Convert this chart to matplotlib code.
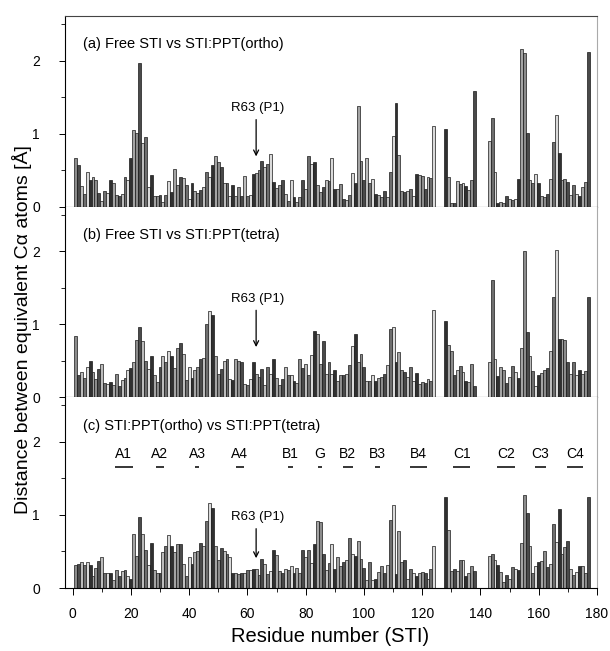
import numpy as np
import matplotlib.pyplot as plt
from matplotlib.ticker import MultipleLocator

plt.rcParams['font.family'] = ['Liberation Sans', 'DejaVu Sans']

# residues present in all three comparisons (two loop gaps)
residues = list(range(1, 125)) + list(range(128, 139)) + list(range(143, 178))

# (a) Free STI vs STI:PPT(ortho)
dist_a = [0.66, 0.57, 0.28, 0.17, 0.47, 0.36, 0.40, 0.36, 0.19, 0.08,
          0.21, 0.19, 0.37, 0.33, 0.16, 0.14, 0.17, 0.41, 0.36, 0.67,
          1.05, 1.01, 1.96, 0.87, 0.95, 0.27, 0.43, 0.15, 0.14, 0.16,
          0.06, 0.16, 0.35, 0.20, 0.52, 0.30, 0.41, 0.39, 0.30, 0.11,
          0.33, 0.21, 0.19, 0.23, 0.27, 0.47, 0.41, 0.57, 0.70, 0.61,
          0.54, 0.32, 0.33, 0.14, 0.30, 0.15, 0.27, 0.15, 0.42,
          0.15, 0.16, 0.45, 0.46, 0.50, 0.63, 0.54, 0.58, 0.72, 0.34,
          0.25, 0.30, 0.37, 0.17, 0.08, 0.36, 0.13, 0.06, 0.13, 0.37,
          0.24, 0.69, 0.58, 0.61, 0.29, 0.20, 0.27, 0.37, 0.35, 0.66,
          0.24, 0.24, 0.31, 0.11, 0.09, 0.16, 0.46, 0.33, 1.38, 0.62,
          0.37, 0.66, 0.32, 0.38, 0.17, 0.16, 0.13, 0.22, 0.13, 0.48,
          0.97, 1.42, 0.71, 0.21, 0.20, 0.22, 0.24, 0.14, 0.45,
          0.43, 0.42, 0.24, 0.41, 0.39, 1.10,
          1.07, 0.41, 0.05, 0.05, 0.35, 0.31, 0.32, 0.28, 0.23, 0.36, 1.58,
          0.90, 1.21, 0.47, 0.05, 0.07, 0.05, 0.15, 0.10, 0.09, 0.11,
          0.38, 2.16, 2.10, 1.01, 0.36, 0.33, 0.45, 0.32, 0.14, 0.13,
          0.17, 0.38, 0.88, 1.25, 0.74, 0.36, 0.38, 0.34, 0.16, 0.30,
          0.17, 0.15, 0.27, 0.34, 2.12]

# (b) Free STI vs STI:PPT(tetra)
dist_b = [0.84, 0.31, 0.34, 0.27, 0.42, 0.50, 0.35, 0.25, 0.39, 0.46,
          0.19, 0.18, 0.21, 0.17, 0.32, 0.16, 0.24, 0.27, 0.37, 0.40,
          0.49, 0.78, 0.96, 0.77, 0.50, 0.39, 0.56, 0.31, 0.21, 0.42,
          0.57, 0.49, 0.63, 0.57, 0.40, 0.68, 0.75, 0.59, 0.24, 0.42,
          0.27, 0.37, 0.41, 0.53, 0.54, 1.00, 1.18, 1.13, 0.56, 0.32,
          0.39, 0.50, 0.53, 0.25, 0.24, 0.53, 0.50,
          0.48, 0.18, 0.17, 0.25, 0.48,
          0.32, 0.28, 0.39, 0.17, 0.42, 0.32, 0.53, 0.27, 0.17, 0.25,
          0.41, 0.30, 0.31, 0.23, 0.20, 0.53, 0.40, 0.46, 0.30, 0.58,
          0.91, 0.87, 0.45, 0.77, 0.32, 0.48, 0.32, 0.37, 0.23, 0.31,
          0.30, 0.32, 0.44, 0.70, 0.87, 0.48, 0.60, 0.42, 0.23, 0.23,
          0.31, 0.23, 0.27, 0.28, 0.32, 0.44, 0.94, 0.96, 0.49, 0.62,
          0.37, 0.34, 0.28, 0.41, 0.23,
          0.33, 0.18, 0.21, 0.19, 0.25, 0.22, 1.20,
          1.05, 0.71, 0.63, 0.31, 0.38, 0.43, 0.34, 0.23, 0.21, 0.46, 0.16,
          0.49, 1.60, 0.53, 0.29, 0.42, 0.37, 0.19, 0.28, 0.43, 0.34,
          0.26, 0.68, 2.00, 0.90, 0.56, 0.36, 0.16, 0.30, 0.33, 0.37,
          0.40, 0.64, 1.38, 2.02, 0.80, 0.80, 0.78, 0.49, 0.32, 0.49,
          0.31, 0.37, 0.32, 0.36, 1.37]

# (c) STI:PPT(ortho) vs STI:PPT(tetra)
dist_c = [0.31, 0.33, 0.35, 0.31, 0.35, 0.31, 0.17, 0.27, 0.37, 0.43,
          0.20, 0.20, 0.20, 0.11, 0.25, 0.17, 0.23, 0.25, 0.16, 0.12,
          0.74, 0.44, 0.97, 0.74, 0.52, 0.32, 0.61, 0.24, 0.21, 0.21,
          0.49, 0.57, 0.72, 0.58, 0.49, 0.60, 0.60, 0.33, 0.16, 0.42,
          0.33, 0.49, 0.50, 0.61, 0.58, 0.92, 1.16, 1.10, 0.58, 0.38,
          0.55, 0.51, 0.47, 0.42, 0.21, 0.20, 0.19, 0.21, 0.21, 0.24,
          0.25, 0.26, 0.26, 0.18, 0.40, 0.33, 0.19, 0.23, 0.52, 0.45,
          0.23, 0.20, 0.26, 0.25, 0.30, 0.21, 0.28, 0.21, 0.52, 0.42,
          0.52, 0.34, 0.60, 0.92, 0.91, 0.47, 0.25, 0.34, 0.60, 0.26,
          0.43,
          0.30, 0.35, 0.38, 0.68, 0.47, 0.44, 0.64, 0.40, 0.27, 0.11,
          0.35, 0.11, 0.13, 0.22, 0.30, 0.20, 0.32, 0.93, 1.13, 0.19,
          0.78, 0.35, 0.39, 0.13, 0.26, 0.21, 0.17, 0.20, 0.22, 0.21,
          0.13, 0.26, 0.58,
          1.25, 0.79, 0.23, 0.26, 0.23, 0.39, 0.38, 0.17, 0.21, 0.30, 0.23,
          0.44, 0.46, 0.38, 0.31, 0.22, 0.08, 0.18, 0.12, 0.29, 0.26,
          0.24, 0.61, 1.27, 1.03, 0.58, 0.21, 0.30, 0.36, 0.37, 0.50,
          0.29, 0.33, 0.87, 0.63, 1.08, 0.47, 0.56, 0.65, 0.26, 0.18,
          0.22, 0.30, 0.30, 0.20, 1.25]

titles = ['(a) Free STI vs STI:PPT(ortho)',
          '(b) Free STI vs STI:PPT(tetra)',
          '(c) STI:PPT(ortho) vs STI:PPT(tetra)']

# secondary structure elements shown in panel (c)
ss_names = ['A1', 'A2', 'A3', 'A4', 'B1', 'G', 'B2', 'B3', 'B4', 'C1', 'C2', 'C3', 'C4']
ss_start = [14.5, 28.6, 41.9, 56.0, 73.9, 84.2, 92.9, 103.9, 115.8, 130.7, 145.6, 158.7, 169.8]
ss_end = [20.6, 31.3, 43.5, 58.8, 75.6, 85.7, 96.1, 105.4, 121.7, 136.4, 151.8, 162.5, 175.3]

p1_residue = 63

greys = ['#8c8c8c', '#4a4a4a', '#bcbcbc', '#6e6e6e', '#dadada', '#303030', '#a4a4a4']

fig = plt.figure(figsize=(6.1, 6.51), dpi=100)
left, right = 65 / 610, 597 / 610
top, bottom = 1 - 16 / 651, 1 - 588 / 651
h = (top - bottom) / 3

arrow_pos = [(1.23, 0.65, 1.27), (1.23, 0.65, 1.27), (0.85, 0.37, 0.89)]

for i, (vals, title) in enumerate(zip([dist_a, dist_b, dist_c], titles)):
    ax = fig.add_axes([left, top - (i + 1) * h, right - left, h])
    cols = [greys[k % len(greys)] for k in range(len(residues))]
    ax.bar(residues, vals, width=1.0, color=cols, edgecolor='#1a1a1a', linewidth=0.5)
    ax.set_xlim(-2.6, 180)
    ax.set_ylim(0, 2.61)
    ax.set_yticks([0, 1, 2])
    ax.set_yticklabels(['0', '1', '2'])
    ax.yaxis.set_minor_locator(MultipleLocator(0.5))
    ax.tick_params(axis='y', which='major', direction='out', length=4, width=0.7, labelsize=10, pad=14)
    ax.tick_params(axis='y', which='minor', direction='out', length=3, width=0.6)
    ax.spines['right'].set_color('#aaaaaa')
    ax.spines['left'].set_linewidth(0.8)
    if i == 0:
        ax.spines['top'].set_color('#444444')
        ax.spines['top'].set_linewidth(0.8)
    else:
        ax.spines['top'].set_visible(False)
    ax.spines['bottom'].set_linewidth(0.8)
    if i < 2:
        ax.tick_params(axis='x', which='both', bottom=False, labelbottom=False)
    else:
        ax.set_xticks(range(0, 181, 20))
        ax.xaxis.set_minor_locator(MultipleLocator(10))
        ax.tick_params(axis='x', which='major', direction='out', length=5, width=0.7, labelsize=10, pad=9)
        ax.tick_params(axis='x', which='minor', direction='out', length=3, width=0.6)

    ax.text(3.5, 2.22, title, fontsize=10.5, ha='left', va='center')

    tail, head, ytxt = arrow_pos[i]
    ax.annotate('', xy=(p1_residue, head), xytext=(p1_residue, tail),
                arrowprops=dict(arrowstyle='->', lw=0.9, color='black', mutation_scale=9))
    ax.text(p1_residue + 0.5, ytxt, 'R63 (P1)', fontsize=9.5, ha='center', va='bottom')

    if i == 2:
        for name, s, e in zip(ss_names, ss_start, ss_end):
            ax.text((s + e) / 2, 1.84, name, fontsize=10, ha='center', va='center')
            ax.plot([s, e], [1.66, 1.66], color='black', lw=1.1, solid_capstyle='butt')

fig.text(22 / 610, 1 - 330 / 651, 'Distance between equivalent C\u03b1 atoms [\u00c5]',
         rotation=90, ha='center', va='center', fontsize=14)
fig.text(330 / 610, 1 - 636 / 651, 'Residue number (STI)', ha='center', va='center', fontsize=14.5)

fig.savefig('out.png', dpi=100)
